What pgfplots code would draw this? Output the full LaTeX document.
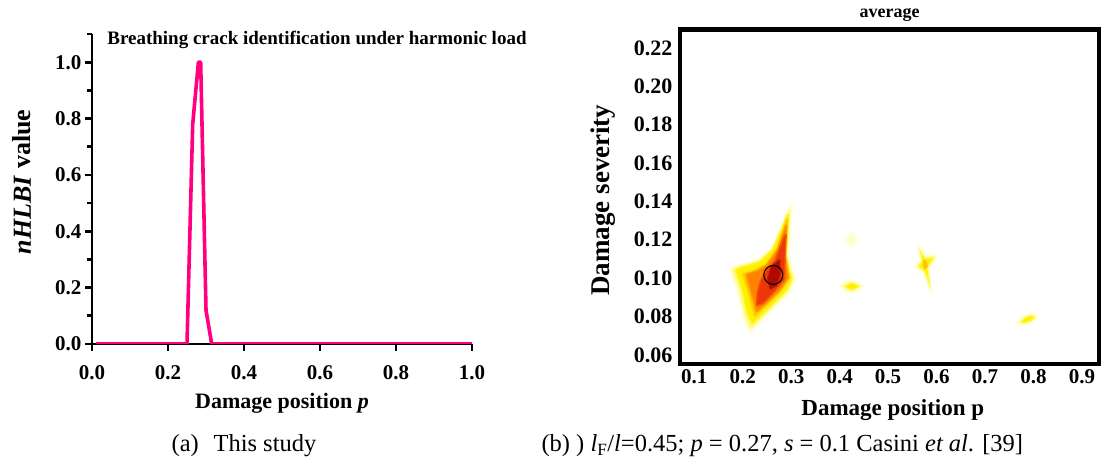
\documentclass[border=0pt]{standalone}
\usepackage{pgfplots}
\pgfplotsset{compat=1.18}
\usepackage{fontspec}
\setmainfont{Liberation Serif}
\definecolor{hot}{RGB}{255,0,128}
\definecolor{hpale}{RGB}{255,255,205}
\definecolor{hlyel}{RGB}{255,252,120}
\definecolor{hyel}{RGB}{255,240,0}
\definecolor{hgold}{RGB}{255,195,0}
\definecolor{horange}{RGB}{255,130,0}
\definecolor{hred}{RGB}{236,55,10}
\definecolor{hdark}{RGB}{175,10,0}
\begin{document}
\begin{tikzpicture}
\useasboundingbox (0pt,0pt) rectangle (1101pt,462pt);
% ---------------- left panel ----------------
\begin{axis}[
  at={(92pt,118pt)}, anchor=south west,
  scale only axis, width=380pt, height=310pt,
  xmin=0, xmax=1, ymin=0, ymax=1.1,
  axis x line=bottom, axis y line=left,
  axis line style={-, line width=2.8pt},
  tick align=outside,
  xtick={0,0.2,0.4,0.6,0.8,1.0},
  ytick={0,0.2,0.4,0.6,0.8,1.0},
  minor ytick={0.1,0.3,0.5,0.7,0.9,1.1},
  major tick length=7pt, minor tick length=5pt,
  every tick/.style={black, line width=2.8pt},
  /pgf/number format/assume math mode=true,
  xticklabel style={font=\bfseries\fontsize{21}{23}\selectfont, yshift=-11pt, /pgf/number format/.cd, fixed, fixed zerofill, precision=1},
  yticklabel style={font=\bfseries\fontsize{21}{23}\selectfont, /pgf/number format/.cd, fixed, fixed zerofill, precision=1},
  title={Breathing crack identification under harmonic load},
  title style={at={(axis description cs:0.592,0.961)}, anchor=center, font=\bfseries\fontsize{19}{21}\selectfont},
  xlabel={Damage position \textit{p}},
  xlabel style={at={(axis description cs:0.5,-0.19)}, anchor=center, font=\bfseries\fontsize{22}{24}\selectfont},
  ylabel={\textit{nHLBI} value},
  ylabel style={at={(axis description cs:-0.184,0.523)}, anchor=center, font=\bfseries\fontsize{26}{28}\selectfont},
]
\addplot[color=hot, line width=3.6pt, line join=round] coordinates {
 (0.01,0) (0.25,0) (0.265,0.78) (0.28,1.0) (0.286,1.0) (0.30,0.12) (0.315,0) (1.0,0)
};
\end{axis}
% ---------------- right panel ----------------
\begin{axis}[
  at={(680pt,98pt)}, anchor=south west,
  scale only axis, width=419pt, height=334.5pt,
  xmin=0.0705, xmax=0.9353, ymin=0.0553, ymax=0.2296,
  axis line style={line width=4.5pt, line cap=rect},
  major tick length=0pt,
  xtick={0.1,0.2,0.3,0.4,0.5,0.6,0.7,0.8,0.9},
  ytick={0.06,0.08,0.10,0.12,0.14,0.16,0.18,0.20,0.22},
  /pgf/number format/assume math mode=true,
  xticklabel style={font=\bfseries\fontsize{21}{23}\selectfont, yshift=-2pt, /pgf/number format/.cd, fixed, fixed zerofill, precision=1},
  yticklabel style={font=\bfseries\fontsize{22}{24}\selectfont, xshift=-4pt, /pgf/number format/.cd, fixed, fixed zerofill, precision=2},
  title={average},
  title style={at={(axis description cs:0.5,1.025)}, anchor=center, font=\bfseries\fontsize{18}{20}\selectfont},
  xlabel={Damage position p},
  xlabel style={at={(axis description cs:0.508,-0.1375)}, anchor=center, font=\bfseries\fontsize{23}{25}\selectfont},
  ylabel={Damage severity},
  ylabel style={at={(axis description cs:-0.184,0.49)}, anchor=center, font=\bfseries\fontsize{27}{29}\selectfont},
  every axis plot/.append style={line join=round},
]
% main blob: pale halo
\addplot[fill=hpale, draw=hpale, line width=5pt, draw opacity=0.6] coordinates {
 (0.2993,0.1375) (0.2956,0.1220) (0.2917,0.1122) (0.3071,0.0996) (0.2956,0.0929)
 (0.2646,0.0851) (0.2339,0.0772) (0.2147,0.0723) (0.2032,0.0791) (0.1915,0.0928)
 (0.1761,0.1045) (0.1876,0.1060) (0.2108,0.1074) (0.2339,0.1093) (0.2639,0.1161)
 (0.2871,0.1298)
} -- cycle;
% light yellow
\addplot[fill=hlyel, draw=hlyel, line width=3pt, draw opacity=0.6] coordinates {
 (0.2965,0.1355) (0.2930,0.1208) (0.2893,0.1117) (0.3040,0.0998) (0.2930,0.0934)
 (0.2638,0.0860) (0.2348,0.0786) (0.2166,0.0740) (0.2057,0.0804) (0.1946,0.0934)
 (0.1800,0.1044) (0.1910,0.1059) (0.2129,0.1072) (0.2348,0.1090) (0.2632,0.1154)
 (0.2851,0.1284)
} -- cycle;
% yellow
\addplot[fill=hyel, draw=hyel, line width=3pt, draw opacity=0.6] coordinates {
 (0.2935,0.1330) (0.2900,0.1195) (0.2866,0.1110) (0.2995,0.1000) (0.2898,0.0941)
 (0.2628,0.0873) (0.2362,0.0806) (0.2198,0.0766) (0.2098,0.0826) (0.1998,0.0940)
 (0.1870,0.1040) (0.1965,0.1054) (0.2165,0.1067) (0.2362,0.1084) (0.2622,0.1144)
 (0.2822,0.1262)
} -- cycle;
% gold
\addplot[fill=hgold, draw=hgold, line width=3pt, draw opacity=0.6] coordinates {
 (0.2915,0.1305) (0.2875,0.1130) (0.2955,0.1002) (0.2770,0.0932) (0.2430,0.0850)
 (0.2250,0.0805) (0.2185,0.0875) (0.2090,0.0960) (0.2010,0.1020) (0.2270,0.1040)
 (0.2495,0.1072) (0.2730,0.1155)
} -- cycle;
% orange
\addplot[fill=horange, draw=horange, line width=3pt, draw opacity=0.6] coordinates {
 (0.2895,0.1272) (0.2856,0.1118) (0.2930,0.1003) (0.2750,0.0938) (0.2440,0.0862)
 (0.2290,0.0830) (0.2230,0.0888) (0.2145,0.0965) (0.2085,0.1018) (0.2300,0.1035)
 (0.2505,0.1066) (0.2718,0.1143)
} -- cycle;
% red
\addplot[fill=hred, draw=hred, line width=3pt, draw opacity=0.6] coordinates {
 (0.2880,0.1225) (0.2858,0.1100) (0.2850,0.0995) (0.2650,0.0935) (0.2410,0.0872)
 (0.2300,0.0862) (0.2315,0.0922) (0.2380,0.0985) (0.2490,0.1035) (0.2680,0.1092)
 (0.2790,0.1165)
} -- cycle;
% dark core
\addplot[fill=hdark, draw=hdark, line width=2pt, draw opacity=0.6] coordinates {
 (0.2760,0.1095) (0.2765,0.1015) (0.2690,0.0962) (0.2570,0.0945) (0.2520,0.0995)
 (0.2590,0.1060)
} -- cycle;
% spot A (faint)
\addplot[fill=hpale, draw=hpale, line width=3pt, draw opacity=0.5] coordinates {
 (0.4120,0.1199) (0.4200,0.1222) (0.4243,0.1240) (0.4290,0.1222) (0.4370,0.1199)
 (0.4290,0.1178) (0.4243,0.1160) (0.4200,0.1178)
} -- cycle;
% spot B
\addplot[fill=hpale, draw=hpale, line width=3pt, draw opacity=0.5] coordinates {
 (0.3980,0.0956) (0.4130,0.0980) (0.4243,0.0990) (0.4360,0.0980) (0.4520,0.0956)
 (0.4360,0.0934) (0.4243,0.0925) (0.4130,0.0934)
} -- cycle;
\addplot[fill=hyel, draw=hlyel, line width=2pt, draw opacity=0.6] coordinates {
 (0.4080,0.0956) (0.4180,0.0972) (0.4243,0.0978) (0.4320,0.0972) (0.4420,0.0956)
 (0.4320,0.0942) (0.4243,0.0936) (0.4180,0.0942)
} -- cycle;
% spot C (star)
\addplot[fill=hpale, draw=hpale, line width=3pt, draw opacity=0.5] coordinates {
 (0.5610,0.1175) (0.5770,0.1120) (0.6020,0.1120) (0.5840,0.1050) (0.5900,0.0920)
 (0.5740,0.1025) (0.5540,0.1060) (0.5680,0.1095)
} -- cycle;
\addplot[fill=hyel, draw=hlyel, line width=2pt, draw opacity=0.6] coordinates {
 (0.5640,0.1150) (0.5770,0.1105) (0.5960,0.1110) (0.5820,0.1055) (0.5870,0.0950)
 (0.5750,0.1035) (0.5610,0.1062) (0.5700,0.1090)
} -- cycle;
\addplot[fill=hgold, draw=none] coordinates {
 (0.5720,0.1100) (0.5800,0.1085) (0.5820,0.1060) (0.5760,0.1045) (0.5720,0.1065)
} -- cycle;
% spot D
\addplot[fill=hpale, draw=hpale, line width=3pt, draw opacity=0.5] coordinates {
 (0.7640,0.0765) (0.7790,0.0800) (0.7960,0.0818) (0.8100,0.0798) (0.7970,0.0770)
 (0.7800,0.0758)
} -- cycle;
\addplot[fill=hyel, draw=hlyel, line width=2pt, draw opacity=0.6] coordinates {
 (0.7720,0.0770) (0.7810,0.0794) (0.7950,0.0808) (0.8040,0.0796) (0.7950,0.0776)
 (0.7820,0.0766)
} -- cycle;
% identified position marker
\addplot[only marks, mark=o, mark size=9.5pt, mark options={draw=black, line width=1.1pt}] coordinates {(0.263,0.1017)};
\end{axis}
% ---------------- captions ----------------
\node[anchor=center, font=\fontsize{24.5}{26}\selectfont] at (244pt,16pt) {(a)\hspace{0.6em}This study};
\node[anchor=west, font=\fontsize{24.5}{26}\selectfont] at (538pt,16pt) {(b) ) \textit{l}\textsubscript{F}/\textit{l}=0.45; \textit{p} = 0.27, \textit{s} = 0.1 Casini \textit{et al}. [39]};
\end{tikzpicture}
\end{document}
